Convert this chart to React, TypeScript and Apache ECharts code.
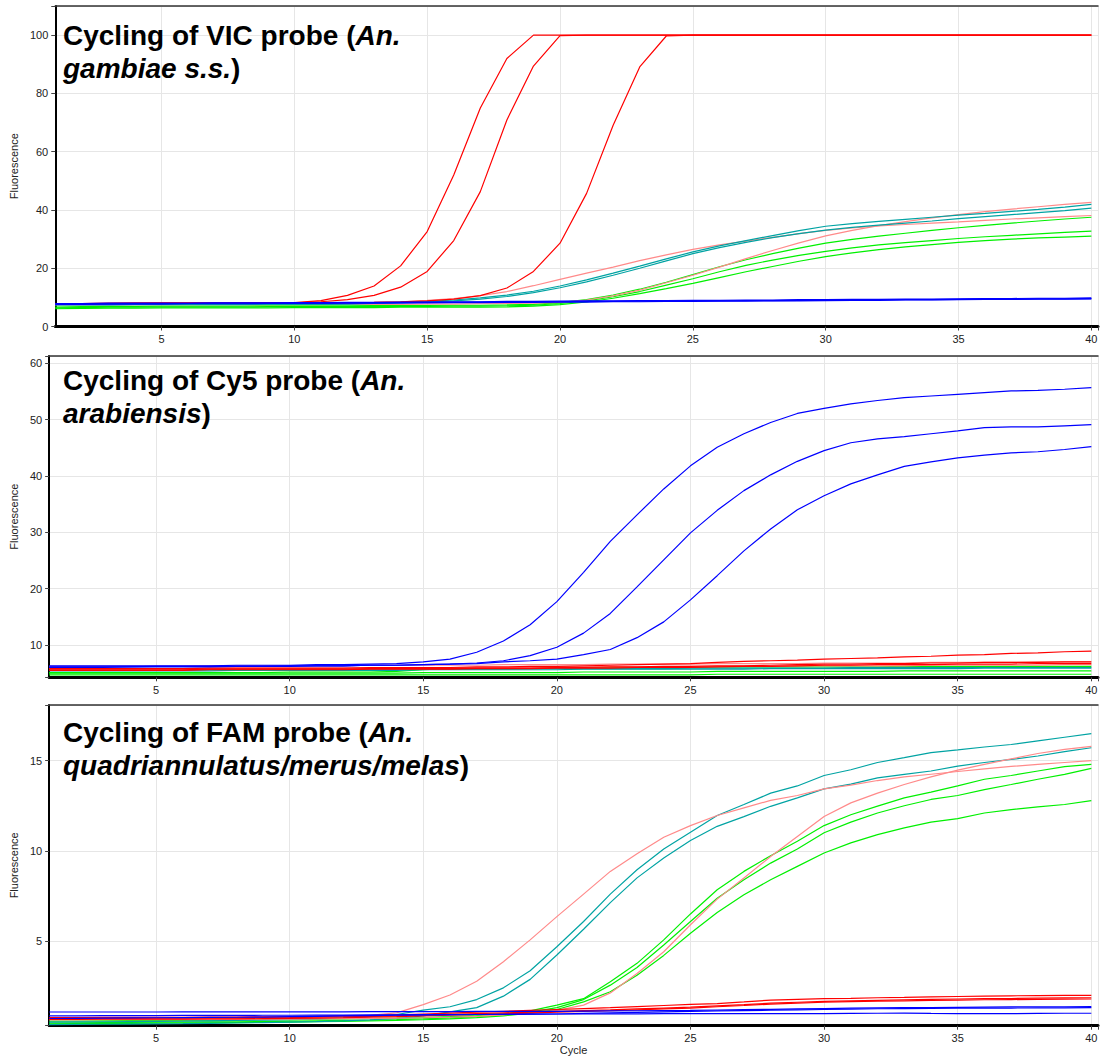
import React, { useEffect, useRef } from "react";
import * as echarts from "echarts";

// ---------- data ----------
const CYCLES = [1, 2, 3, 4, 5, 6, 7, 8, 9, 10, 11, 12, 13, 14, 15, 16, 17, 18, 19, 20,
  21, 22, 23, 24, 25, 26, 27, 28, 29, 30, 31, 32, 33, 34, 35, 36, 37, 38, 39, 40];

// Panel 1: VIC probe
const VIC_RED_1 = [7.9, 7.9, 8.0, 8.0, 8.0, 8.0, 8.0, 8.1, 8.1, 8.2,
  8.9, 10.7, 13.9, 20.8, 32.6, 52.0, 75.0, 92.0, 100, 100,
  100, 100, 100, 100, 100, 100, 100, 100, 100, 100,
  100, 100, 100, 100, 100, 100, 100, 100, 100, 100];
const VIC_RED_2 = [7.8, 7.9, 7.9, 8.0, 8.0, 8.0, 8.0, 8.0, 8.1, 8.1,
  8.5, 9.2, 10.7, 13.5, 18.9, 29.5, 46.3, 70.9, 89.4, 99.8,
  100, 100, 100, 100, 100, 100, 100, 100, 100, 100,
  100, 100, 100, 100, 100, 100, 100, 100, 100, 100];
const VIC_RED_3 = [7.8, 7.8, 7.9, 7.9, 8.0, 8.0, 8.0, 8.0, 8.0, 8.1,
  8.1, 8.2, 8.3, 8.5, 8.8, 9.4, 10.6, 13.2, 18.9, 28.6,
  45.7, 69.1, 89.1, 99.7, 100, 100, 100, 100, 100, 100,
  100, 100, 100, 100, 100, 100, 100, 100, 100, 100];
const VIC_PINK_1 = [7.9, 7.9, 7.9, 8.0, 8.0, 8.0, 8.0, 8.0, 8.0, 8.1,
  8.1, 8.2, 8.3, 8.5, 9.0, 9.6, 10.6, 12.0, 14.0, 16.2,
  18.3, 20.4, 22.6, 24.6, 26.5, 28.0, 29.3, 30.6, 31.9, 33.0,
  33.8, 34.5, 35.0, 35.5, 35.9, 36.4, 36.9, 37.3, 37.7, 38.1];
const VIC_PINK_2 = [7.4, 7.4, 7.4, 7.5, 7.5, 7.5, 7.5, 7.5, 7.5, 7.5,
  7.5, 7.6, 7.6, 7.6, 7.7, 7.7, 7.8, 7.9, 8.0, 8.3,
  9.1, 10.5, 12.5, 15.0, 17.6, 20.4, 23.3, 26.1, 28.7, 31.1,
  33.0, 34.6, 36.0, 37.3, 38.4, 39.4, 40.3, 41.1, 41.9, 42.6];
const VIC_TEAL_1 = [7.5, 7.5, 7.5, 7.6, 7.6, 7.6, 7.6, 7.6, 7.7, 7.7,
  7.7, 7.8, 8.0, 8.3, 8.6, 9.1, 9.8, 10.8, 12.1, 13.9,
  16.0, 18.3, 20.7, 23.2, 25.6, 27.7, 29.5, 31.2, 32.9, 34.4,
  35.3, 36.1, 36.8, 37.5, 38.2, 38.8, 39.5, 40.2, 41.0, 41.9];
const VIC_TEAL_2 = [7.4, 7.4, 7.4, 7.5, 7.5, 7.5, 7.5, 7.5, 7.6, 7.6,
  7.6, 7.7, 7.9, 8.1, 8.4, 8.8, 9.4, 10.3, 11.6, 13.3,
  15.3, 17.6, 20.0, 22.5, 25.0, 27.1, 28.9, 30.5, 31.9, 33.1,
  34.0, 34.8, 35.5, 36.2, 37.0, 37.7, 38.4, 39.1, 39.8, 40.6];
const VIC_GREEN_1 = [6.7, 6.8, 6.9, 6.9, 7.0, 7.0, 7.0, 7.0, 7.1, 7.1,
  7.1, 7.1, 7.2, 7.2, 7.2, 7.3, 7.3, 7.4, 7.6, 8.2,
  9.2, 10.8, 12.8, 15.2, 17.8, 20.5, 22.9, 25.0, 26.9, 28.6,
  29.9, 31.0, 32.0, 33.0, 33.9, 34.7, 35.5, 36.2, 36.9, 37.5];
const VIC_GREEN_2 = [6.4, 6.5, 6.6, 6.6, 6.7, 6.7, 6.7, 6.7, 6.8, 6.8,
  6.8, 6.8, 6.9, 6.9, 6.9, 7.0, 7.0, 7.1, 7.3, 7.9,
  8.8, 10.2, 12.0, 14.2, 16.4, 18.8, 21.0, 22.8, 24.4, 25.8,
  27.0, 28.0, 28.8, 29.5, 30.2, 30.8, 31.3, 31.8, 32.3, 32.7];
const VIC_GREEN_3 = [6.1, 6.2, 6.3, 6.3, 6.4, 6.4, 6.4, 6.4, 6.4, 6.5,
  6.5, 6.5, 6.5, 6.6, 6.6, 6.6, 6.6, 6.7, 7.0, 7.5,
  8.4, 9.7, 11.3, 13.0, 14.8, 16.8, 18.8, 20.6, 22.4, 24.0,
  25.3, 26.4, 27.3, 28.1, 28.9, 29.5, 30.0, 30.4, 30.7, 31.0];
const VIC_BLUE_1 = [7.9, 7.9, 8.0, 8.0, 8.0, 8.0, 8.1, 8.1, 8.1, 8.2,
  8.2, 8.3, 8.3, 8.4, 8.4, 8.5, 8.5, 8.6, 8.6, 8.7,
  8.8, 8.8, 8.9, 8.9, 9.0, 9.0, 9.1, 9.1, 9.2, 9.2,
  9.3, 9.3, 9.4, 9.4, 9.5, 9.6, 9.6, 9.7, 9.7, 9.8];
const VIC_BLUE_2 = [7.7, 7.8, 7.8, 7.9, 7.9, 7.9, 8.0, 8.0, 8.0, 8.0,
  8.1, 8.1, 8.2, 8.2, 8.3, 8.3, 8.4, 8.4, 8.5, 8.5,
  8.6, 8.6, 8.7, 8.7, 8.8, 8.8, 8.9, 8.9, 9.0, 9.0,
  9.1, 9.1, 9.2, 9.2, 9.3, 9.4, 9.4, 9.5, 9.5, 9.6];
const VIC_BLUE_3 = [7.6, 7.6, 7.7, 7.7, 7.7, 7.8, 7.8, 7.8, 7.9, 7.9,
  7.9, 8.0, 8.0, 8.1, 8.1, 8.2, 8.2, 8.3, 8.3, 8.4,
  8.4, 8.5, 8.5, 8.6, 8.6, 8.7, 8.7, 8.8, 8.8, 8.9,
  9.0, 9.0, 9.1, 9.1, 9.2, 9.3, 9.3, 9.4, 9.4, 9.5];

// Panel 2: Cy5 probe
const CY5_BLUE_1 = [6.3, 6.3, 6.3, 6.3, 6.3, 6.3, 6.3, 6.4, 6.4, 6.4,
  6.5, 6.5, 6.6, 6.7, 7.0, 7.5, 8.7, 10.7, 13.6, 17.7,
  22.9, 28.4, 33.1, 37.7, 41.8, 45.1, 47.5, 49.5, 51.1, 52.0,
  52.8, 53.4, 53.9, 54.2, 54.5, 54.8, 55.1, 55.2, 55.4, 55.7];
const CY5_BLUE_2 = [6.0, 6.0, 6.0, 6.1, 6.1, 6.1, 6.1, 6.2, 6.2, 6.2,
  6.3, 6.3, 6.4, 6.4, 6.5, 6.6, 6.8, 7.2, 8.1, 9.6,
  12.1, 15.6, 20.3, 25.1, 29.9, 33.9, 37.4, 40.2, 42.6, 44.5,
  45.9, 46.6, 47.0, 47.5, 48.0, 48.6, 48.7, 48.7, 48.9, 49.1];
const CY5_BLUE_3 = [6.1, 6.1, 6.1, 6.1, 6.2, 6.2, 6.2, 6.2, 6.2, 6.3,
  6.3, 6.3, 6.4, 6.4, 6.5, 6.6, 6.7, 7.0, 7.2, 7.5,
  8.3, 9.2, 11.3, 14.1, 18.0, 22.3, 26.7, 30.6, 34.0, 36.5,
  38.6, 40.2, 41.7, 42.5, 43.2, 43.7, 44.1, 44.3, 44.7, 45.2];
const CY5_RED_1 = [5.8, 5.8, 5.8, 5.8, 5.8, 5.8, 5.9, 5.9, 5.9, 5.9,
  5.9, 5.9, 6.0, 6.0, 6.0, 6.0, 6.1, 6.1, 6.2, 6.2,
  6.3, 6.4, 6.5, 6.6, 6.7, 6.9, 7.1, 7.2, 7.3, 7.5,
  7.6, 7.7, 7.9, 8.0, 8.2, 8.3, 8.5, 8.6, 8.8, 8.9];
const CY5_RED_2 = [5.6, 5.6, 5.6, 5.6, 5.6, 5.6, 5.7, 5.7, 5.7, 5.7,
  5.7, 5.7, 5.8, 5.8, 5.8, 5.8, 5.9, 5.9, 5.9, 6.0,
  6.0, 6.1, 6.1, 6.2, 6.2, 6.3, 6.3, 6.4, 6.5, 6.6,
  6.6, 6.7, 6.7, 6.8, 6.8, 6.9, 6.9, 6.9, 7.0, 7.0];
const CY5_RED_3 = [5.5, 5.5, 5.5, 5.5, 5.5, 5.5, 5.6, 5.6, 5.6, 5.6,
  5.6, 5.6, 5.7, 5.7, 5.7, 5.7, 5.8, 5.8, 5.8, 5.9,
  5.9, 5.9, 6.0, 6.0, 6.0, 6.1, 6.2, 6.2, 6.3, 6.4,
  6.4, 6.5, 6.5, 6.5, 6.6, 6.6, 6.6, 6.7, 6.7, 6.7];
const CY5_PINK_1 = [6.2, 6.2, 6.2, 6.2, 6.2, 6.2, 6.3, 6.3, 6.3, 6.3,
  6.3, 6.3, 6.4, 6.4, 6.4, 6.4, 6.4, 6.5, 6.5, 6.5,
  6.5, 6.6, 6.6, 6.6, 6.6, 6.7, 6.7, 6.7, 6.7, 6.8,
  6.8, 6.8, 6.8, 6.9, 6.9, 6.9, 6.9, 7.0, 7.0, 7.0];
const CY5_PINK_2 = [5.8, 5.8, 5.8, 5.8, 5.8, 5.8, 5.9, 5.9, 5.9, 5.9,
  5.9, 5.9, 5.9, 6.0, 6.0, 6.0, 6.0, 6.0, 6.0, 6.1,
  6.1, 6.1, 6.1, 6.1, 6.2, 6.2, 6.2, 6.2, 6.3, 6.3,
  6.3, 6.3, 6.3, 6.4, 6.4, 6.4, 6.4, 6.4, 6.5, 6.5];
const CY5_TEAL_1 = [5.5, 5.5, 5.5, 5.5, 5.5, 5.5, 5.6, 5.6, 5.6, 5.6,
  5.6, 5.6, 5.7, 5.7, 5.7, 5.7, 5.7, 5.7, 5.8, 5.8,
  5.8, 5.8, 5.8, 5.8, 5.9, 5.9, 5.9, 5.9, 5.9, 5.9,
  6.0, 6.0, 6.0, 6.0, 6.0, 6.0, 6.0, 6.0, 6.0, 6.0];
const CY5_TEAL_2 = [5.4, 5.4, 5.4, 5.4, 5.4, 5.4, 5.4, 5.5, 5.5, 5.5,
  5.5, 5.5, 5.5, 5.5, 5.6, 5.6, 5.6, 5.6, 5.6, 5.6,
  5.7, 5.7, 5.7, 5.7, 5.7, 5.7, 5.7, 5.8, 5.8, 5.8,
  5.8, 5.8, 5.8, 5.8, 5.8, 5.9, 5.9, 5.9, 5.9, 5.9];
const CY5_GREEN_1 = [5.1, 5.1, 5.1, 5.1, 5.1, 5.1, 5.1, 5.1, 5.1, 5.2,
  5.2, 5.2, 5.2, 5.3, 5.6, 5.8, 5.9, 5.9, 5.9, 6.0,
  6.0, 6.0, 6.0, 6.0, 6.0, 6.1, 6.1, 6.1, 6.1, 6.1,
  6.1, 6.1, 6.2, 6.2, 6.2, 6.2, 6.2, 6.2, 6.2, 6.2];
const CY5_GREEN_2 = [5.0, 5.0, 5.0, 5.0, 5.0, 5.0, 5.0, 5.0, 5.0, 5.0,
  5.0, 5.0, 5.0, 5.0, 5.1, 5.1, 5.1, 5.1, 5.1, 5.1,
  5.2, 5.2, 5.2, 5.2, 5.2, 5.3, 5.3, 5.3, 5.3, 5.3,
  5.3, 5.3, 5.4, 5.4, 5.4, 5.4, 5.4, 5.4, 5.4, 5.4];
const CY5_GREEN_3 = [4.7, 4.7, 4.7, 4.7, 4.7, 4.7, 4.7, 4.7, 4.7, 4.7,
  4.7, 4.7, 4.7, 4.7, 4.7, 4.7, 4.7, 4.7, 4.7, 4.7,
  4.7, 4.7, 4.7, 4.7, 4.7, 4.8, 4.8, 4.8, 4.8, 4.8,
  4.8, 4.8, 4.8, 4.8, 4.8, 4.8, 4.8, 4.8, 4.8, 4.8];

// Panel 3: FAM probe
const FAM_PINK_1 = [0.70, 0.70, 0.71, 0.72, 0.72, 0.73, 0.74, 0.75, 0.76, 0.78,
  0.80, 0.83, 0.88, 1.01, 1.47, 2.00, 2.77, 3.85, 5.06, 6.35,
  7.60, 8.86, 9.84, 10.75, 11.40, 11.96, 12.38, 12.80, 13.07, 13.44,
  13.65, 13.90, 14.10, 14.25, 14.40, 14.55, 14.68, 14.80, 14.90, 15.00];
const FAM_PINK_2 = [0.62, 0.62, 0.63, 0.63, 0.64, 0.64, 0.65, 0.65, 0.66, 0.67,
  0.68, 0.69, 0.70, 0.72, 0.74, 0.77, 0.82, 0.90, 1.00, 1.15,
  1.44, 2.12, 3.20, 4.40, 5.90, 7.32, 8.49, 9.69, 10.80, 11.90,
  12.66, 13.20, 13.68, 14.10, 14.48, 14.80, 15.10, 15.40, 15.63, 15.80];
const FAM_TEAL_1 = [0.50, 0.51, 0.52, 0.53, 0.54, 0.55, 0.57, 0.59, 0.61, 0.64,
  0.68, 0.73, 0.80, 0.92, 1.16, 1.35, 1.75, 2.40, 3.35, 4.68,
  6.08, 7.60, 8.95, 10.10, 11.03, 11.96, 12.57, 13.20, 13.60, 14.18,
  14.50, 14.90, 15.17, 15.45, 15.60, 15.76, 15.90, 16.10, 16.30, 16.50];
const FAM_TEAL_2 = [0.36, 0.37, 0.38, 0.39, 0.40, 0.41, 0.43, 0.45, 0.47, 0.50,
  0.53, 0.57, 0.62, 0.70, 0.85, 1.07, 1.30, 1.94, 2.87, 4.22,
  5.65, 7.13, 8.50, 9.60, 10.57, 11.36, 11.90, 12.47, 12.94, 13.44,
  13.70, 14.05, 14.24, 14.43, 14.70, 14.90, 15.07, 15.26, 15.50, 15.72];
const FAM_GREEN_1 = [0.55, 0.56, 0.57, 0.58, 0.59, 0.60, 0.61, 0.62, 0.63, 0.64,
  0.66, 0.68, 0.70, 0.72, 0.75, 0.80, 0.86, 0.95, 1.12, 1.44,
  1.80, 2.74, 3.76, 5.06, 6.50, 7.84, 8.86, 9.73, 10.53, 11.40,
  12.00, 12.48, 12.94, 13.26, 13.60, 13.97, 14.18, 14.43, 14.67, 14.80];
const FAM_GREEN_2 = [0.45, 0.46, 0.47, 0.48, 0.49, 0.50, 0.51, 0.52, 0.53, 0.55,
  0.57, 0.59, 0.61, 0.64, 0.68, 0.73, 0.80, 0.90, 1.05, 1.30,
  1.75, 2.55, 3.53, 4.78, 6.08, 7.37, 8.40, 9.32, 10.10, 11.00,
  11.59, 12.10, 12.50, 12.85, 13.07, 13.40, 13.68, 13.97, 14.24, 14.57];
const FAM_GREEN_3 = [0.40, 0.41, 0.42, 0.43, 0.44, 0.45, 0.46, 0.47, 0.48, 0.50,
  0.52, 0.54, 0.56, 0.59, 0.63, 0.68, 0.75, 0.85, 1.00, 1.20,
  1.62, 2.18, 3.10, 4.20, 5.43, 6.58, 7.56, 8.40, 9.14, 9.88,
  10.44, 10.90, 11.27, 11.59, 11.79, 12.10, 12.29, 12.44, 12.57, 12.79];
const FAM_RED_1 = [0.75, 0.75, 0.76, 0.76, 0.77, 0.77, 0.78, 0.78, 0.79, 0.80,
  0.82, 0.84, 0.86, 0.90, 0.95, 1.00, 1.05, 1.10, 1.15, 1.20,
  1.25, 1.30, 1.36, 1.42, 1.48, 1.53, 1.62, 1.72, 1.76, 1.80,
  1.82, 1.85, 1.87, 1.90, 1.92, 1.94, 1.96, 1.97, 1.98, 1.98];
const FAM_RED_2 = [0.70, 0.70, 0.71, 0.71, 0.72, 0.72, 0.73, 0.73, 0.74, 0.75,
  0.77, 0.79, 0.82, 0.85, 0.89, 0.93, 0.97, 1.01, 1.05, 1.10,
  1.14, 1.18, 1.23, 1.28, 1.33, 1.40, 1.47, 1.55, 1.60, 1.65,
  1.68, 1.71, 1.74, 1.76, 1.78, 1.80, 1.81, 1.83, 1.84, 1.85];
const FAM_RED_3 = [0.65, 0.65, 0.66, 0.66, 0.67, 0.67, 0.68, 0.68, 0.69, 0.70,
  0.72, 0.74, 0.77, 0.80, 0.84, 0.88, 0.92, 0.96, 1.00, 1.05,
  1.09, 1.13, 1.18, 1.23, 1.28, 1.35, 1.42, 1.50, 1.55, 1.60,
  1.63, 1.66, 1.68, 1.70, 1.72, 1.74, 1.75, 1.76, 1.77, 1.78];
const FAM_BLUE_1 = [1.06, 1.06, 1.06, 1.06, 1.06, 1.07, 1.07, 1.07, 1.07, 1.07,
  1.07, 1.07, 1.08, 1.08, 1.08, 1.08, 1.09, 1.09, 1.10, 1.10,
  1.11, 1.12, 1.13, 1.14, 1.15, 1.17, 1.19, 1.21, 1.23, 1.25,
  1.27, 1.29, 1.30, 1.31, 1.32, 1.33, 1.34, 1.35, 1.35, 1.36];
const FAM_BLUE_2 = [0.70, 0.71, 0.72, 0.73, 0.74, 0.75, 0.76, 0.77, 0.78, 0.80,
  0.82, 0.84, 0.86, 0.88, 0.90, 0.91, 0.92, 0.93, 0.94, 0.95,
  0.98, 1.01, 1.04, 1.07, 1.10, 1.12, 1.14, 1.16, 1.18, 1.20,
  1.22, 1.24, 1.25, 1.26, 1.27, 1.28, 1.28, 1.29, 1.29, 1.30];
const FAM_BLUE_3 = [0.85, 0.85, 0.86, 0.86, 0.86, 0.87, 0.87, 0.87, 0.88, 0.88,
  0.89, 0.89, 0.90, 0.90, 0.91, 0.91, 0.92, 0.93, 0.94, 0.95,
  0.95, 0.96, 0.96, 0.97, 0.97, 0.97, 0.97, 0.97, 0.97, 0.97,
  0.98, 0.99, 1.00, 0.98, 0.97, 0.97, 0.97, 0.98, 0.99, 0.99];

const RED = "#ff0000";
const PINK = "#ff8a8a";
const TEAL = "#00a3a3";
const GREEN = "#00f000";
const BLUE = "#0000ff";

type Curve = { color: string; values: number[] };

const PANELS: {
  curves: Curve[];
  yMin: number; yMax: number; yStep: number;
  left: number; top: number; height: number; nameGap: number;
  line1: string; line2: string; titleY: number;
}[] = [
  {
    curves: [
      { color: GREEN, values: VIC_GREEN_1 }, { color: GREEN, values: VIC_GREEN_2 }, { color: GREEN, values: VIC_GREEN_3 },
      { color: PINK, values: VIC_PINK_1 }, { color: PINK, values: VIC_PINK_2 },
      { color: TEAL, values: VIC_TEAL_1 }, { color: TEAL, values: VIC_TEAL_2 },
      { color: RED, values: VIC_RED_1 }, { color: RED, values: VIC_RED_2 }, { color: RED, values: VIC_RED_3 },
      { color: BLUE, values: VIC_BLUE_1 }, { color: BLUE, values: VIC_BLUE_2 }, { color: BLUE, values: VIC_BLUE_3 },
    ],
    yMin: 0, yMax: 110, yStep: 20, left: 48, top: 6, height: 320.5, nameGap: 26,
    line1: "{b|Cycling of VIC probe (}{bi|An.}", line2: "{bi|gambiae s.s.}{b|)}", titleY: 19.3,
  },
  {
    curves: [
      { color: GREEN, values: CY5_GREEN_1 }, { color: GREEN, values: CY5_GREEN_2 }, { color: GREEN, values: CY5_GREEN_3 },
      { color: TEAL, values: CY5_TEAL_1 }, { color: TEAL, values: CY5_TEAL_2 },
      { color: PINK, values: CY5_PINK_1 }, { color: PINK, values: CY5_PINK_2 },
      { color: RED, values: CY5_RED_1 }, { color: RED, values: CY5_RED_2 }, { color: RED, values: CY5_RED_3 },
      { color: BLUE, values: CY5_BLUE_1 }, { color: BLUE, values: CY5_BLUE_2 }, { color: BLUE, values: CY5_BLUE_3 },
    ],
    yMin: 4.26, yMax: 61.3, yStep: 10, left: 41, top: 356, height: 321.3, nameGap: 19,
    line1: "{b|Cycling of Cy5 probe (}{bi|An.}", line2: "{bi|arabiensis}{b|)}", titleY: 364.3,
  },
  {
    curves: [
      { color: GREEN, values: FAM_GREEN_1 }, { color: GREEN, values: FAM_GREEN_2 }, { color: GREEN, values: FAM_GREEN_3 },
      { color: TEAL, values: FAM_TEAL_1 }, { color: TEAL, values: FAM_TEAL_2 },
      { color: PINK, values: FAM_PINK_1 }, { color: PINK, values: FAM_PINK_2 },
      { color: RED, values: FAM_RED_1 }, { color: RED, values: FAM_RED_2 }, { color: RED, values: FAM_RED_3 },
      { color: BLUE, values: FAM_BLUE_1 }, { color: BLUE, values: FAM_BLUE_2 }, { color: BLUE, values: FAM_BLUE_3 },
    ],
    yMin: 0.3, yMax: 18.09, yStep: 5, left: 41, top: 705, height: 320.7, nameGap: 19,
    line1: "{b|Cycling of FAM probe (}{bi|An.}", line2: "{bi|quadriannulatus/merus/melas}{b|)}", titleY: 716.6,
  },
];

const FONT = "'Liberation Sans', Arial, Helvetica, sans-serif";
const X_MIN = 1;
const X_MAX = 40.25;
const X_STEP = 5;

const isMultiple = (v: number, step: number) => Math.abs(v / step - Math.round(v / step)) < 1e-6;

export default function App() {
  const ref = useRef<HTMLDivElement>(null);

  useEffect(() => {
    if (!ref.current) return;
    const chart = echarts.init(ref.current, undefined, { renderer: "svg" });

    const grids: any[] = [];
    const xAxes: any[] = [];
    const yAxes: any[] = [];
    const series: any[] = [];
    const graphics: any[] = [];

    PANELS.forEach((p, i) => {
      grids.push({ left: p.left, top: p.top, right: 0, height: p.height, containLabel: false });
      xAxes.push({
        type: "value", gridIndex: i, position: "bottom", min: X_MIN, max: X_MAX,
        minInterval: X_STEP, maxInterval: X_STEP,
        axisLine: { show: true, onZero: false, lineStyle: { color: "#000", width: 3 } },
        axisTick: { show: true, length: 4, lineStyle: { color: "#444", width: 1 } },
        axisLabel: {
          show: true, fontSize: 11, color: "#222", margin: 7, fontFamily: FONT,
          showMinLabel: false,
          formatter: (v: number) => (isMultiple(v, X_STEP) && v >= X_STEP ? String(v) : ""),
        },
        splitLine: { show: true, lineStyle: { color: "#e6e6e6", width: 1 } },
        ...(i === 2 ? {
          name: "Cycle", nameLocation: "middle", nameGap: 19,
          nameTextStyle: { fontSize: 11, color: "#222", fontFamily: FONT },
        } : {}),
      });
      xAxes.push({
        type: "value", gridIndex: i, position: "top", min: X_MIN, max: X_MAX,
        axisLine: { show: true, onZero: false, lineStyle: { color: "#333", width: 1.5 } },
        axisTick: { show: false }, axisLabel: { show: false }, splitLine: { show: false },
      });
      yAxes.push({
        type: "value", gridIndex: i, min: p.yMin, max: p.yMax,
        minInterval: p.yStep, maxInterval: p.yStep,
        axisLine: { show: true, onZero: false, lineStyle: { color: "#000", width: 2 } },
        axisTick: { show: true, length: 4, lineStyle: { color: "#444", width: 1 } },
        axisLabel: {
          show: true, fontSize: 11, color: "#222", margin: 7, fontFamily: FONT,
          formatter: (v: number) => (isMultiple(v, p.yStep) ? String(Math.round(v)) : ""),
        },
        splitLine: { show: true, lineStyle: { color: "#e6e6e6", width: 1 } },
        name: "Fluorescence", nameLocation: "middle", nameGap: p.nameGap,
        nameTextStyle: { fontSize: 11, color: "#222", fontFamily: FONT },
      });
      p.curves.forEach((c) => {
        series.push({
          type: "line", xAxisIndex: 2 * i, yAxisIndex: i, showSymbol: false, symbol: "none",
          silent: true, clip: true,
          lineStyle: { color: c.color, width: 1.2 },
          itemStyle: { color: c.color },
          data: CYCLES.map((cy, k) => [cy, c.values[k]]),
        });
      });
      const rich = {
        b: { fontFamily: FONT, fontSize: 28, fontWeight: "bold", fill: "#000", lineHeight: 32.5 },
        bi: { fontFamily: FONT, fontSize: 28, fontWeight: "bold", fontStyle: "italic", fill: "#000", lineHeight: 32.5 },
      };
      graphics.push({
        type: "text", x: 63, y: p.titleY, z: 100, silent: true,
        style: { text: p.line1 + "\n" + p.line2, rich, verticalAlign: "top", align: "left", fill: "#000",
          fontFamily: FONT, fontSize: 28, fontWeight: "bold", lineHeight: 32.5 },
      });
    });

    chart.setOption({
      animation: false,
      backgroundColor: "#fff",
      textStyle: { fontFamily: FONT },
      grid: grids,
      xAxis: xAxes,
      yAxis: yAxes,
      series,
      graphic: graphics,
    });

    return () => chart.dispose();
  }, []);

  return (
    <div
      ref={ref}
      style={{ position: "absolute", left: 0, top: 0, width: 1101, height: 1057, background: "#fff" }}
    />
  );
}
